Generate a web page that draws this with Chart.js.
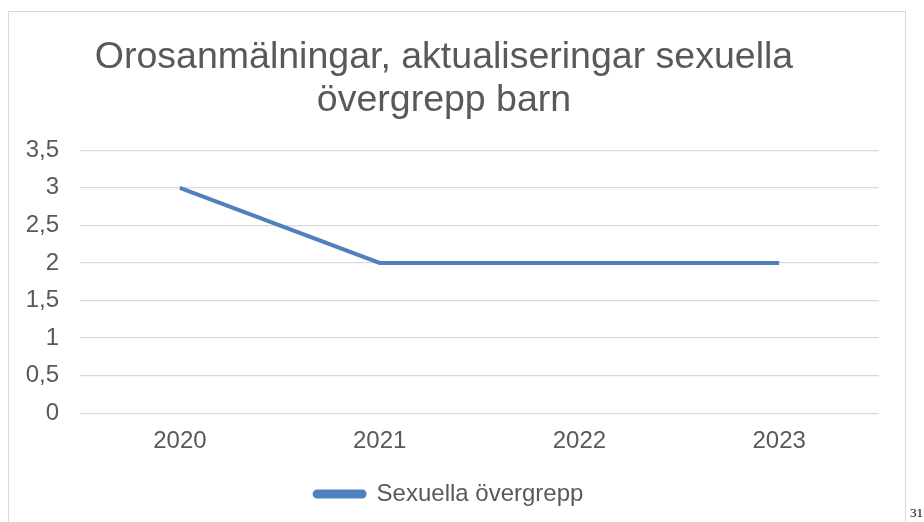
<!DOCTYPE html>
<html>
<head>
<meta charset="utf-8">
<script src="https://cdn.jsdelivr.net/npm/chart.js@4"></script>
<style>
  html, body { margin: 0; padding: 0; background: #fff; }
  body { width: 924px; height: 522px; position: relative; overflow: hidden; }
  #frame {
    position: absolute; left: 8px; top: 11px;
    width: 896px; height: 520px;
    border: 1px solid #d9d9d9;
  }
  #chartCanvas { display: block; }
  #pageNo {
    position: absolute; left: 910px; top: 505px;
    font-family: "Liberation Serif", "DejaVu Serif", serif; font-size: 13px; color: #000;
  }
</style>
</head>
<body>
<div id="frame"><canvas id="chartCanvas" width="896" height="510"></canvas></div>
<div id="pageNo">31</div>
<script>
const years = ["2020", "2021", "2022", "2023"];
const cases = [3, 2, 2, 2];
const seriesName = "Sexuella övergrepp";
const titleLines = ["Orosanmälningar, aktualiseringar sexuella", "övergrepp barn"];

const textGray = "#595959";
const fontFamily = "'Liberation Sans', Arial, sans-serif";

// nudge the legend a few pixels right of the canvas centre
const legendNudge = {
    id: "legendNudge",
    afterLayout: function (chart) {
        chart.legend.left += 5;
        chart.legend.right += 5;
    }
};

const ctx = document.getElementById("chartCanvas").getContext("2d");
new Chart(ctx, {
    type: "line",
    data: {
        labels: years,
        datasets: [{
            label: seriesName,
            data: cases,
            borderColor: "#4f81bd",
            backgroundColor: "#4f81bd",
            borderWidth: 4,
            pointRadius: 0,
            tension: 0,
            fill: false
        }]
    },
    options: {
        responsive: false,
        animation: false,
        layout: { padding: { left: 0, right: 26, top: 0, bottom: 6 } },
        plugins: {
            title: {
                display: true,
                text: titleLines,
                color: textGray,
                font: { family: fontFamily, size: 37.5, weight: "normal", lineHeight: 1.15 },
                padding: { top: 24, bottom: 28 }
            },
            legend: {
                position: "bottom",
                labels: {
                    color: textGray,
                    font: { family: fontFamily, size: 24 },
                    boxWidth: 50,
                    boxHeight: 5,
                    useBorderRadius: true,
                    borderRadius: 2.5,
                    padding: 20
                }
            },
            tooltip: { enabled: false }
        },
        scales: {
            x: {
                offset: true,
                grid: { display: false },
                border: { display: false },
                ticks: {
                    color: textGray,
                    font: { family: fontFamily, size: 24 },
                    padding: 6
                }
            },
            y: {
                min: 0,
                max: 3.5,
                border: { display: false },
                grid: { color: "#d9d9d9", lineWidth: 1.3, drawTicks: false },
                ticks: {
                    stepSize: 0.5,
                    color: textGray,
                    font: { family: fontFamily, size: 24 },
                    padding: 21,
                    callback: function (value) {
                        return String(value).replace(".", ",");
                    }
                },
                afterFit: function (scale) {
                    scale.width = 71;
                }
            }
        }
    },
    plugins: [legendNudge]
});
</script>
</body>
</html>
